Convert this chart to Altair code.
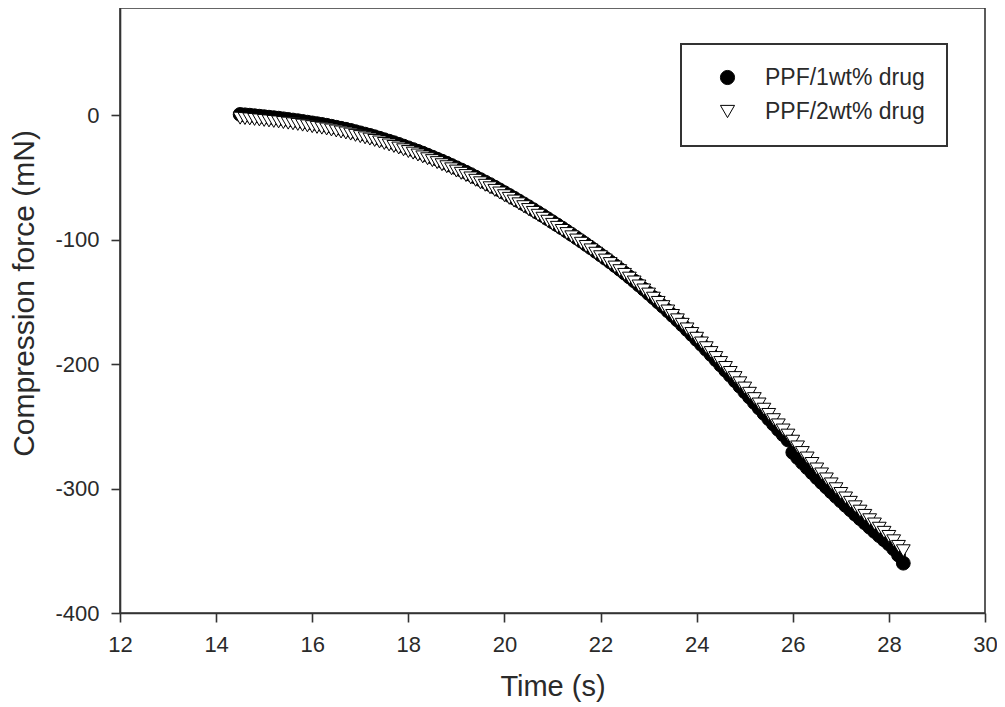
import altair as alt
import pandas as pd

SERIES = ["PPF/1wt% drug", "PPF/2wt% drug"]
X_TICKS = [12, 14, 16, 18, 20, 22, 24, 26, 28, 30]
Y_TICKS = [-400, -300, -200, -100, 0]

TIME_S = [
    14.5, 14.6, 14.7, 14.8, 14.9, 15.0, 15.1, 15.2, 15.3, 15.4,
    15.5, 15.6, 15.7, 15.8, 15.9, 16.0, 16.1, 16.2, 16.3, 16.4,
    16.5, 16.6, 16.7, 16.8, 16.9, 17.0, 17.1, 17.2, 17.3, 17.4,
    17.5, 17.6, 17.7, 17.8, 17.9, 18.0, 18.1, 18.2, 18.3, 18.4,
    18.5, 18.6, 18.7, 18.8, 18.9, 19.0, 19.1, 19.2, 19.3, 19.4,
    19.5, 19.6, 19.7, 19.8, 19.9, 20.0, 20.1, 20.2, 20.3, 20.4,
    20.5, 20.6, 20.7, 20.8, 20.9, 21.0, 21.1, 21.2, 21.3, 21.4,
    21.5, 21.6, 21.7, 21.8, 21.9, 22.0, 22.1, 22.2, 22.3, 22.4,
    22.5, 22.6, 22.7, 22.8, 22.9, 23.0, 23.1, 23.2, 23.3, 23.4,
    23.5, 23.6, 23.7, 23.8, 23.9, 24.0, 24.1, 24.2, 24.3, 24.4,
    24.5, 24.6, 24.7, 24.8, 24.9, 25.0, 25.1, 25.2, 25.3, 25.4,
    25.5, 25.6, 25.7, 25.8, 25.9, 26.0, 26.1, 26.2, 26.3, 26.4,
    26.5, 26.6, 26.7, 26.8, 26.9, 27.0, 27.1, 27.2, 27.3, 27.4,
    27.5, 27.6, 27.7, 27.8, 27.9, 28.0, 28.1, 28.2, 28.3,
]

FORCE_1WT = [
    0.5, 0.2, -0.1, -0.5, -0.9, -1.3, -1.7, -2.1, -2.5, -3.0,
    -3.5, -4.0, -4.5, -5.1, -5.7, -6.3, -6.9, -7.5, -8.2, -9.0,
    -9.8, -10.6, -11.4, -12.3, -13.3, -14.3, -15.3, -16.3, -17.4, -18.6,
    -19.8, -21.0, -22.2, -23.5, -24.9, -26.3, -27.7, -29.1, -30.6, -32.2,
    -33.8, -35.4, -37.0, -38.7, -40.5, -42.3, -44.1, -45.9, -47.8, -49.8,
    -51.8, -53.8, -55.8, -57.9, -60.1, -62.3, -64.5, -66.7, -69.0, -71.3,
    -73.6, -76.0, -78.4, -80.8, -83.3, -85.8, -88.3, -90.8, -93.4, -96.0,
    -98.6, -101.3, -104.0, -106.7, -109.5, -112.3, -115.1, -118.0, -120.9, -123.9,
    -127.0, -130.1, -133.3, -136.6, -139.9, -143.3, -146.7, -150.2, -153.7, -157.3,
    -161.0, -164.7, -168.5, -172.4, -176.3, -180.3, -184.3, -188.3, -192.4, -196.6,
    -200.8, -205.0, -209.2, -213.5, -217.9, -222.3, -226.6, -231.0, -235.4, -239.7,
    -244.0, -248.3, -252.6, -256.8, -261.0, -271.0, -275.2, -279.3, -283.3, -287.3,
    -291.3, -295.1, -298.9, -302.7, -306.4, -310.0, -313.6, -317.1, -320.7, -324.2,
    -327.6, -331.1, -334.5, -337.9, -341.2, -344.5, -348.5, -353.5, -360.0,
]

FORCE_2WT = [
    -2.5, -2.8, -3.1, -3.5, -3.9, -4.3, -4.7, -5.1, -5.5, -6.0,
    -6.5, -7.0, -7.5, -8.1, -8.7, -9.3, -9.9, -10.5, -11.2, -12.0,
    -12.8, -13.6, -14.4, -15.3, -16.3, -17.3, -18.3, -19.3, -20.4, -21.6,
    -22.8, -24.0, -25.2, -26.5, -27.9, -29.3, -30.6, -32.1, -33.6, -35.1,
    -36.6, -38.2, -39.9, -41.5, -43.2, -45.0, -46.8, -48.6, -50.5, -52.4,
    -54.4, -56.4, -58.4, -60.5, -62.6, -64.8, -66.9, -69.1, -71.3, -73.6,
    -75.9, -78.2, -80.5, -82.9, -85.3, -87.8, -90.2, -92.7, -95.2, -97.8,
    -100.4, -103.0, -105.6, -108.3, -111.0, -113.8, -116.5, -119.3, -122.1, -125.0,
    -128.0, -131.0, -134.1, -137.3, -140.5, -143.8, -147.1, -150.5, -153.9, -157.4,
    -161.0, -164.5, -168.1, -171.8, -175.5, -179.3, -183.1, -186.9, -190.8, -194.8,
    -198.8, -202.8, -206.8, -210.9, -215.1, -219.3, -223.5, -227.8, -232.1, -236.3,
    -240.5, -244.7, -248.9, -253.0, -257.1, -262.0, -266.6, -271.1, -275.5, -279.9,
    -284.3, -288.3, -292.3, -296.3, -300.2, -304.0, -307.6, -311.1, -314.7, -318.2,
    -321.6, -325.1, -328.5, -331.9, -335.2, -338.5, -342.0, -346.5, -350.0,
]

rows = []
idx = 0
for name, values in ((SERIES[0], FORCE_1WT), (SERIES[1], FORCE_2WT)):
    for t, f in zip(TIME_S, values):
        rows.append({"t": t, "f": f, "series": name, "idx": idx})
        idx += 1
df = pd.DataFrame(rows)

FONT = "Liberation Sans"
TEXT = "#2a2a2a"
AX = "#333333"

legend = alt.Legend(
    title=None,
    orient="none",
    legendX=561,
    legendY=36,
    padding=22,
    symbolOffset=13,
    labelOffset=26,
    rowPadding=10,
    labelFont=FONT,
    labelFontSize=23,
    labelColor=TEXT,
    symbolSize=200,
    symbolStrokeWidth=1,
    strokeColor=AX,
    fillColor="white",
)

chart = (
    alt.Chart(df)
    .mark_point(filled=True, strokeWidth=1, opacity=1, size=190)
    .encode(
        x=alt.X(
            "t:Q",
            scale=alt.Scale(domain=[12, 30], nice=False, zero=False),
            axis=alt.Axis(title="Time (s)", values=X_TICKS, labelPadding=12,
                          labelFlush=False, titlePadding=17, titleFontSize=29),
        ),
        y=alt.Y(
            "f:Q",
            scale=alt.Scale(domain=[-400, 86], nice=False, zero=False),
            axis=alt.Axis(title="Compression force (mN)", values=Y_TICKS,
                          labelExpr="'' + datum.value", labelPadding=12,
                          labelFlush=False, titlePadding=15, titleFontSize=30,
                          titleY=285),
        ),
        shape=alt.Shape(
            "series:N",
            scale=alt.Scale(domain=SERIES, range=["circle", "triangle-down"]),
            legend=legend,
        ),
        fill=alt.Fill(
            "series:N",
            scale=alt.Scale(domain=SERIES, range=["black", "white"]),
            legend=legend,
        ),
        stroke=alt.Stroke(
            "series:N",
            scale=alt.Scale(domain=SERIES, range=["black", "black"]),
            legend=legend,
        ),
        order=alt.Order("idx:Q"),
    )
    .properties(
        width=865,
        height=605,
        autosize=alt.AutoSizeParams(type="none"),
        padding={"left": 112, "top": 0, "right": 12, "bottom": 90},
    )
    .configure_view(stroke=AX, strokeWidth=1.6)
    .configure_axis(
        grid=False,
        labelFont=FONT,
        labelFontSize=22,
        labelColor=TEXT,
        titleFont=FONT,
        titleFontWeight="normal",
        titleColor=TEXT,
        tickSize=9,
        tickColor=AX,
        tickWidth=1.6,
        domainColor=AX,
        domainWidth=1.6,
    )
    .configure_legend(strokeWidth=2)
)

chart.save("out.html", embed_options={"renderer": "svg", "actions": False})
